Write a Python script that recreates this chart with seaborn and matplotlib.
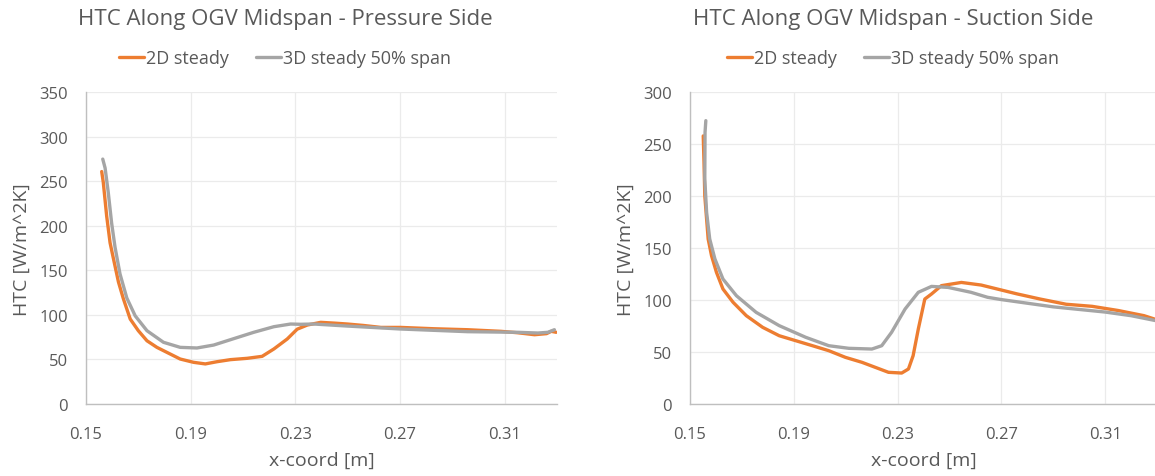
import matplotlib
matplotlib.use("Agg")
import matplotlib.pyplot as plt
import seaborn as sns
import pandas as pd

# Pressure side - 2D steady
ps_x_2d = [0.1560, 0.1566, 0.1579, 0.1592, 0.1605, 0.1624, 0.1643, 0.1669, 0.1700, 0.1733,
           0.1771, 0.1809, 0.1860, 0.1911, 0.1956, 0.2001, 0.2052, 0.2116, 0.2173, 0.2218,
           0.2269, 0.2307, 0.2346, 0.2397, 0.2450, 0.2499, 0.2560, 0.2627, 0.2703, 0.2830,
           0.2959, 0.3086, 0.3150, 0.3214, 0.3260, 0.3278, 0.3297]
ps_htc_2d = [261, 249, 211, 181, 163, 137, 118, 95.4, 82.3, 71,
             63.6, 58, 50.5, 46.8, 45, 47.5, 49.8, 51.3, 53.5, 61.8,
             73, 84, 88.7, 91.7, 90.8, 89.8, 88.2, 86, 86, 84.5,
             83.4, 81.6, 80, 77.8, 79, 81.6, 80.5]

# Pressure side - 3D steady 50% span
ps_x_3d = [0.1564, 0.1573, 0.1585, 0.1598, 0.1611, 0.1630, 0.1656, 0.1688, 0.1733, 0.1796,
           0.1860, 0.1924, 0.1988, 0.2052, 0.2141, 0.2218, 0.2282, 0.2320, 0.2371, 0.2500,
           0.2703, 0.2959, 0.3150, 0.3227, 0.3265, 0.3290]
ps_htc_3d = [275, 265, 237.7, 203, 176, 146, 119, 99, 82.3, 69.3,
             63.6, 62.9, 66.2, 72.2, 80.5, 86.8, 89.8, 89.5, 89.8, 87.5,
             84.2, 81.2, 80.5, 79.7, 80.5, 83.4]

# Suction side - 2D steady
ss_x_2d = [0.1551, 0.1554, 0.1557, 0.1564, 0.1570, 0.1583, 0.1602, 0.1627, 0.1666, 0.1717,
           0.1780, 0.1844, 0.1908, 0.1972, 0.2035, 0.2099, 0.2163, 0.2214, 0.2265, 0.2316,
           0.2342, 0.2360, 0.2380, 0.2405, 0.2431, 0.2469, 0.2546, 0.2622, 0.2700, 0.2760,
           0.2850, 0.2950, 0.3050, 0.3150, 0.3250, 0.3300]
ss_htc_2d = [258, 232.6, 200.5, 178, 158.8, 142.7, 126.7, 110.7, 97.9, 85,
             73.8, 65.7, 60.9, 56.1, 51.3, 44.9, 40.1, 35.3, 30.5, 29.8,
             33.7, 46.5, 72.2, 101, 105.9, 113.9, 117, 114.5, 109.7, 106,
             101, 96, 94, 90, 85, 81]

# Suction side - 3D steady 50% span
ss_x_3d = [0.1561, 0.1558, 0.1557, 0.1564, 0.1576, 0.1596, 0.1627, 0.1679, 0.1755, 0.1844,
           0.1946, 0.2035, 0.2112, 0.2201, 0.2239, 0.2277, 0.2329, 0.2380, 0.2431, 0.2495,
           0.2583, 0.2647, 0.2700, 0.2900, 0.3100, 0.3200, 0.3300]
ss_htc_3d = [272.7, 261.5, 216.6, 184.5, 158.8, 139.6, 120.3, 104.2, 88.2, 75.4,
             64.2, 56.1, 53.6, 52.9, 56.1, 69, 91.4, 107.5, 113.2, 112.2,
             107.5, 102.7, 100.5, 93.5, 88.5, 85, 80]

ORANGE = "#ED7D31"
GRAY = "#A5A5A5"
TXT = "#595959"

sns.set_style("white")
plt.rcParams["font.family"] = ["Open Sans", "DejaVu Sans"]

fig = plt.figure(figsize=(11.55, 4.77), dpi=100)
ax1 = fig.add_axes([86 / 1155, 1 - 405 / 477, (557 - 86) / 1155, (405 - 93.3) / 477])
ax2 = fig.add_axes([690 / 1155, 1 - 405 / 477, (1157 - 690) / 1155, (405 - 93.3) / 477])


def tegn(ax, x2, y2, x3, y3, ymax, tittel, midt):
    sns.lineplot(x=x2, y=y2, ax=ax, color=ORANGE, lw=2.4, sort=False, label="2D steady")
    sns.lineplot(x=x3, y=y3, ax=ax, color=GRAY, lw=2.4, sort=False, label="3D steady 50% span")
    ax.set_xlim(0.15, 0.33)
    ax.set_ylim(0, ymax)
    ax.set_xticks([0.15, 0.19, 0.23, 0.27, 0.31])
    ax.set_xticklabels(["0.15", "0.19", "0.23", "0.27", "0.31"])
    ax.set_yticks(range(0, ymax + 1, 50))
    ax.grid(True, color="#EBEBEB", lw=0.9)
    ax.set_axisbelow(True)
    for s in ["top", "right"]:
        ax.spines[s].set_visible(False)
    for s in ["left", "bottom"]:
        ax.spines[s].set_color("#BFBFBF")
        ax.spines[s].set_linewidth(1.0)
    ax.tick_params(axis="both", length=0, labelsize=12, labelcolor=TXT)
    ax.tick_params(axis="x", pad=16)
    ax.tick_params(axis="y", pad=13)
    ax.set_xlabel("x-coord [m]", fontsize=14, color=TXT, labelpad=6)
    ax.set_ylabel("HTC [W/m^2K]", fontsize=14, color=TXT, labelpad=6)
    leg = ax.legend(loc="center", ncol=2, frameon=False, fontsize=13, handlelength=1.4,
                    handletextpad=0.1, columnspacing=1.5)
    leg.set_bbox_to_anchor((midt, 1 - 59 / 477), transform=fig.transFigure)
    for t in leg.get_texts():
        t.set_color(TXT)
    fig.text(midt, 1 - 20 / 477, tittel, ha="center", va="center", fontsize=16, color=TXT)


tegn(ax1, ps_x_2d, ps_htc_2d, ps_x_3d, ps_htc_3d, 350,
     "HTC Along OGV Midspan - Pressure Side", 285 / 1155)
tegn(ax2, ss_x_2d, ss_htc_2d, ss_x_3d, ss_htc_3d, 300,
     "HTC Along OGV Midspan - Suction Side", 893 / 1155)

fig.savefig("out.png", dpi=100, facecolor="white")
